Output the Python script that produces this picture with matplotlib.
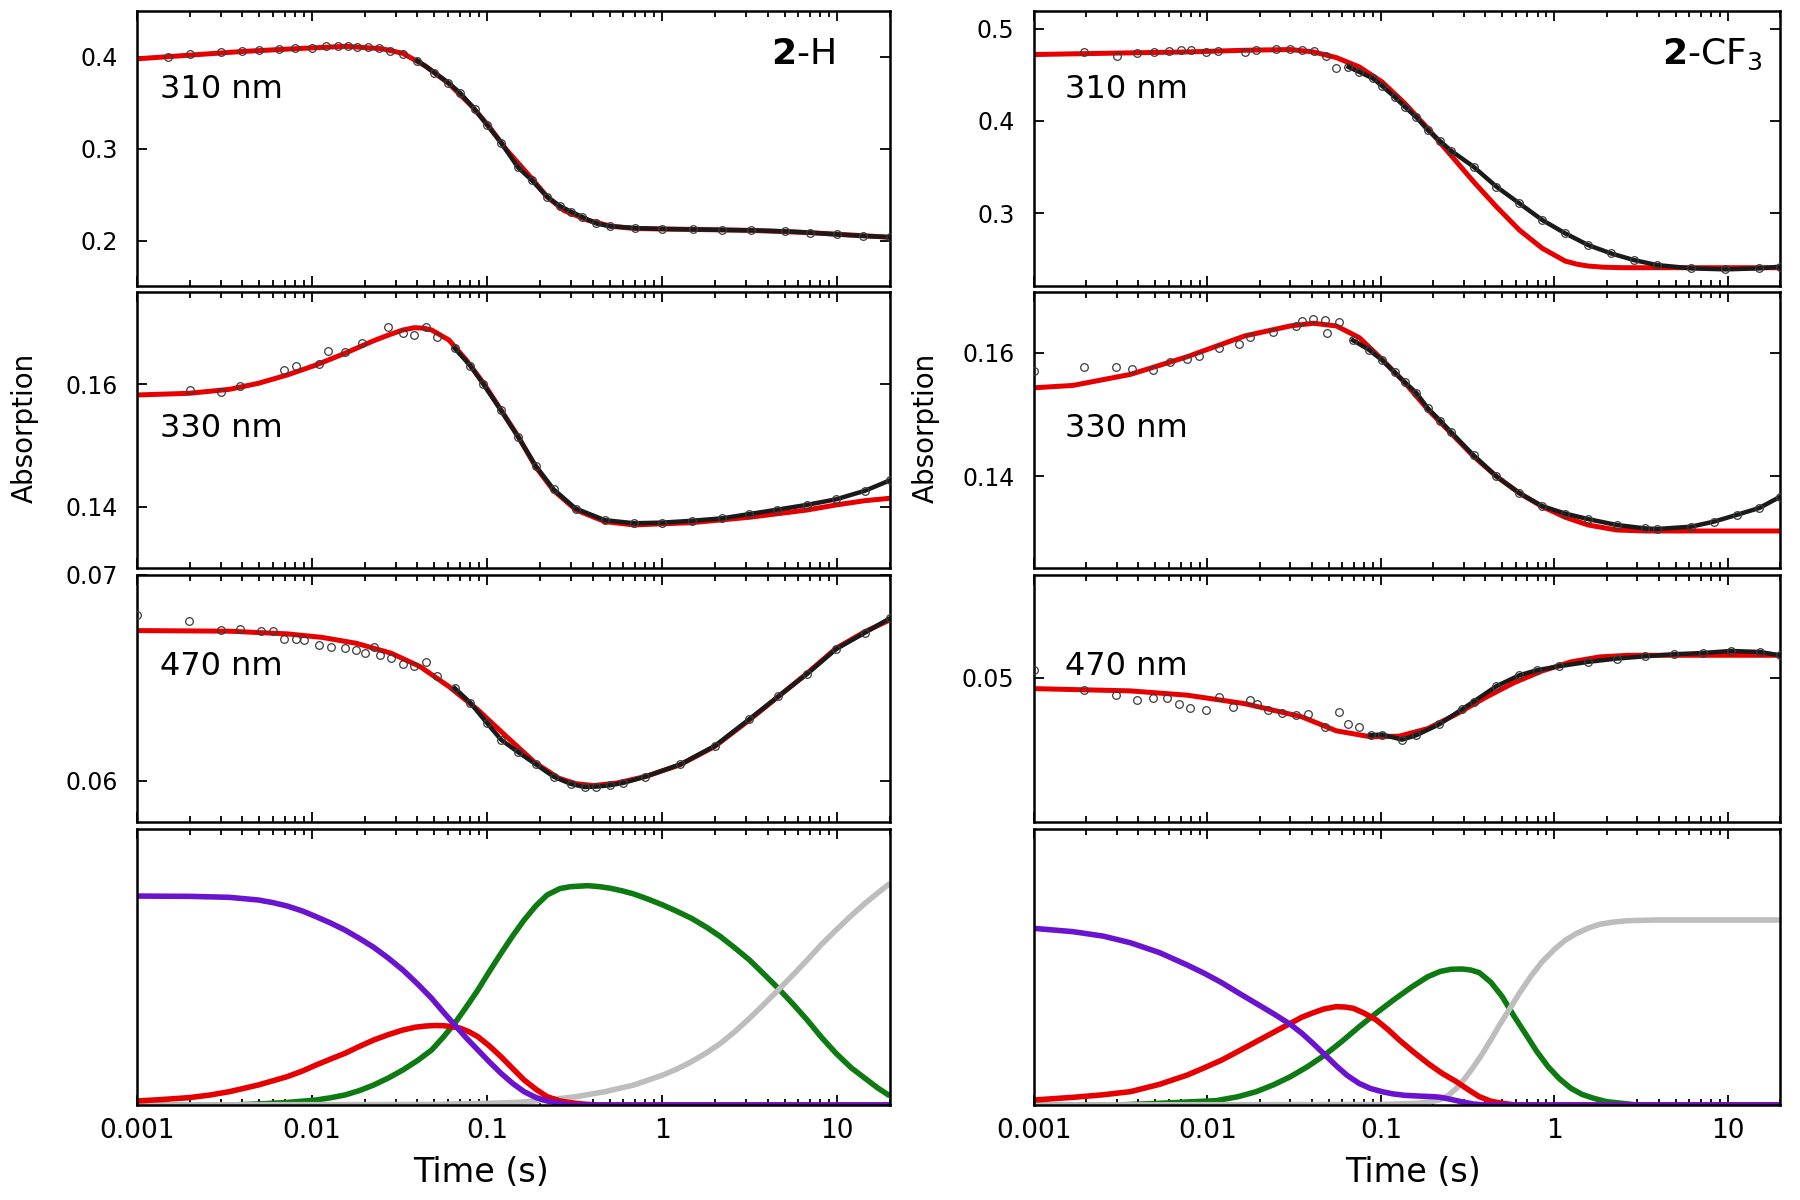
import matplotlib.pyplot as plt
import numpy as np
from matplotlib.ticker import FixedLocator, FixedFormatter, LogLocator, NullFormatter

# x axis (shared by all panels)
x_ticks = [0.001, 0.01, 0.1, 1, 10]
x_ticklabels = ['0.001', '0.01', '0.1', '1', '10']

# ---------------- 2-H ----------------
# 310 nm
h310_fit_t = [0.001, 0.002, 0.004, 0.008, 0.0155, 0.025, 0.033, 0.0446, 0.0605, 0.0822, 0.103,
              0.129, 0.176, 0.22, 0.275, 0.375, 0.51, 0.7, 1.5, 3.2, 7, 20]
h310_fit_y = [0.398, 0.402, 0.406, 0.409, 0.4116, 0.409, 0.404, 0.390, 0.371, 0.346, 0.324,
              0.299, 0.270, 0.248, 0.233, 0.2225, 0.216, 0.2135, 0.2125, 0.2115, 0.209, 0.204]
h310_dat_t = [0.0015, 0.002, 0.003, 0.004, 0.005, 0.0065, 0.008, 0.01, 0.012, 0.014, 0.016, 0.018,
              0.021, 0.024, 0.028, 0.033, 0.04, 0.05, 0.06, 0.07, 0.085, 0.1, 0.12, 0.15, 0.18, 0.22,
              0.26, 0.3, 0.35, 0.42, 0.5, 0.7, 1.0, 1.5, 2.2, 3.2, 5, 7, 10, 14, 20]
h310_dat_y = [0.4005, 0.4030, 0.4050, 0.4060, 0.4075, 0.4085, 0.4095, 0.4102, 0.4115, 0.4118, 0.4120,
              0.4112, 0.4105, 0.4095, 0.4070, 0.4035, 0.3960, 0.3830, 0.3720, 0.3610, 0.3430, 0.3260,
              0.3070, 0.2800, 0.2660, 0.2480, 0.2380, 0.2320, 0.2260, 0.2190, 0.2160, 0.2140, 0.2130,
              0.2125, 0.2120, 0.2115, 0.2105, 0.2090, 0.2070, 0.2055, 0.2040]
h310_yticks = [0.2, 0.3, 0.4]
h310_ylabels = ['0.2', '0.3', '0.4']

# 330 nm
h330_fit_t = [0.001, 0.00198, 0.00337, 0.00493, 0.00721, 0.01054, 0.0154, 0.0225, 0.028, 0.033, 0.0384,
              0.0435, 0.0482, 0.0605, 0.076, 0.0955, 0.12, 0.1507, 0.189, 0.238, 0.322, 0.471, 0.689,
              1.47, 3.15, 6.73, 9.84, 14.4, 20]
h330_fit_y = [0.15821, 0.15848, 0.15913, 0.16011, 0.16147, 0.16310, 0.16500, 0.16706, 0.16810, 0.16880,
              0.16918, 0.16910, 0.16880, 0.16717, 0.16391, 0.16011, 0.15576, 0.15141, 0.14652, 0.14272,
              0.13946, 0.13756, 0.13702, 0.13739, 0.13827, 0.13946, 0.14028, 0.14098, 0.14137]
h330_dat_t = [0.002, 0.003, 0.0039, 0.0069, 0.0081, 0.011, 0.0123, 0.0154, 0.0194, 0.027, 0.033,
              0.0384, 0.0446, 0.052, 0.0653, 0.08, 0.095, 0.12, 0.15, 0.19, 0.24, 0.32, 0.47, 0.69,
              1.0, 1.47, 2.2, 3.15, 4.5, 6.73, 9.84, 14.4, 20]
h330_dat_y = [0.15902, 0.15875, 0.15967, 0.16228, 0.16293, 0.16326, 0.16543, 0.16527, 0.16663, 0.16934,
              0.16826, 0.16799, 0.16934, 0.16771, 0.16581, 0.1630, 0.1600, 0.1557, 0.1514, 0.1466,
              0.1428, 0.1397, 0.1378, 0.1373, 0.1374, 0.1377, 0.1381, 0.1388, 0.1395, 0.1403, 0.1412,
              0.1426, 0.1443]
h330_yticks = [0.14, 0.16]
h330_ylabels = ['0.14', '0.16']

# 470 nm
h470_fit_t = [0.001, 0.00337, 0.00721, 0.01138, 0.01795, 0.0283, 0.0414, 0.0605, 0.0885, 0.129, 0.189,
              0.2566, 0.322, 0.405, 0.548, 0.802, 1.265, 1.995, 3.15, 4.6, 6.73, 9.84, 14.4, 20]
h470_fit_y = [0.06730, 0.06727, 0.06714, 0.06697, 0.06668, 0.06620, 0.06555, 0.06458, 0.06345, 0.06215,
              0.06086, 0.06013, 0.05986, 0.05977, 0.05989, 0.06021, 0.06078, 0.06167, 0.06296, 0.06409,
              0.06523, 0.06644, 0.06725, 0.06782]
h470_dat_t = [0.001, 0.00198, 0.003, 0.0039, 0.0051, 0.006, 0.0069, 0.0081, 0.009, 0.0109, 0.0128,
              0.0154, 0.0179, 0.0201, 0.0225, 0.0243, 0.0283, 0.033, 0.0384, 0.0446, 0.052, 0.0653,
              0.08, 0.1, 0.12, 0.15, 0.19, 0.24, 0.3, 0.36, 0.42, 0.5, 0.6, 0.8, 1.27, 2.0, 3.15, 4.6,
              6.73, 9.84, 14.4, 20]
h470_dat_y = [0.06806, 0.06777, 0.06733, 0.06736, 0.06730, 0.06730, 0.06688, 0.06688, 0.06682, 0.06660,
              0.06652, 0.06644, 0.06635, 0.06622, 0.06648, 0.06612, 0.06595, 0.06570, 0.06557, 0.06579,
              0.06507, 0.06450, 0.0638, 0.0628, 0.0620, 0.0614, 0.0608, 0.0602, 0.05985, 0.05970,
              0.05972, 0.05978, 0.05990, 0.0602, 0.0608, 0.0617, 0.0630, 0.0641, 0.0652, 0.0664,
              0.0672, 0.0679]
h470_yticks = [0.06, 0.07]
h470_ylabels = ['0.06', '0.07']

# species (2-H)
h_purple_t = [0.001, 0.002, 0.00337, 0.00493, 0.006, 0.00721, 0.0088, 0.01054, 0.0127, 0.0154, 0.0186,
              0.0225, 0.0273, 0.033, 0.04, 0.0482, 0.056, 0.0653, 0.076, 0.0885, 0.103, 0.12, 0.14,
              0.1626, 0.19, 0.22, 0.26, 0.2985, 20]
h_purple_y = [0.757, 0.756, 0.7524, 0.7428, 0.733, 0.721, 0.703, 0.6824, 0.660, 0.634, 0.604,
              0.5713, 0.532, 0.4891, 0.439, 0.3865, 0.338, 0.2899, 0.243, 0.1993, 0.156, 0.1147, 0.078,
              0.0483, 0.027, 0.0145, 0.006, 0.0, 0.0]
h_red_t = [0.001, 0.0014, 0.00198, 0.0026, 0.00337, 0.00493, 0.00721, 0.0088, 0.01054, 0.0127, 0.0154,
           0.0186, 0.0225, 0.0273, 0.033, 0.039, 0.0447, 0.0505, 0.0561, 0.063, 0.0705, 0.079, 0.0885,
           0.103, 0.12, 0.14, 0.1626, 0.19, 0.22, 0.26, 0.2985, 0.36, 0.4365, 20]
h_red_y = [0.0145, 0.020, 0.0266, 0.036, 0.0483, 0.0725, 0.1027, 0.123, 0.1449, 0.166, 0.1872,
           0.212, 0.2355, 0.255, 0.2717, 0.282, 0.2862, 0.2880, 0.2874, 0.284, 0.2778, 0.265, 0.2476,
           0.214, 0.175, 0.132, 0.0906, 0.057, 0.0302, 0.015, 0.0085, 0.003, 0.0, 0.0]
h_green_t = [0.001, 0.0034, 0.00493, 0.0072, 0.01054, 0.0127, 0.0154, 0.0186, 0.0225, 0.0273, 0.033,
             0.04, 0.0482, 0.056, 0.0653, 0.076, 0.0885, 0.103, 0.12, 0.14, 0.1626, 0.19, 0.22, 0.26,
             0.2985, 0.375, 0.44, 0.508, 0.59, 0.689, 0.83, 1.008, 1.22, 1.47, 1.78, 2.153, 2.6, 3.15,
             3.8, 4.6, 5.6, 6.73, 8.1, 9.84, 12, 14.4, 17, 20]
h_green_y = [0.0, 0.0, 0.0036, 0.009, 0.0181, 0.026, 0.0362, 0.052, 0.0725, 0.098, 0.1268,
             0.161, 0.1993, 0.245, 0.296, 0.355, 0.4167, 0.484, 0.5495, 0.613, 0.6703, 0.722, 0.7609,
             0.784, 0.791, 0.7947, 0.791, 0.785, 0.776, 0.7645, 0.746, 0.7246, 0.701, 0.6763, 0.645,
             0.6099, 0.569, 0.5254, 0.475, 0.4227, 0.365, 0.308, 0.246, 0.1872, 0.135, 0.0966, 0.062,
             0.0326]
h_gray_t = [0.001, 0.05, 0.103, 0.1507, 0.22, 0.322, 0.471, 0.689, 1.008, 1.22, 1.47, 1.78, 2.153,
            2.6, 3.15, 3.8, 4.6, 5.6, 6.73, 8.1, 9.84, 12, 14.4, 17, 20]
h_gray_y = [0.0, 0.002, 0.006, 0.0097, 0.0181, 0.0302, 0.0483, 0.0725, 0.1087, 0.131, 0.157, 0.188,
            0.2234, 0.266, 0.3140, 0.364, 0.4167, 0.472, 0.5254, 0.581, 0.634, 0.686, 0.7307, 0.768,
            0.8032]

# ---------------- 2-CF3 ----------------
# 310 nm
c310_fit_t = [0.001, 0.00359, 0.00766, 0.0164, 0.0301, 0.0408, 0.0553, 0.075, 0.1015, 0.1376, 0.1866,
              0.253, 0.3425, 0.464, 0.629, 0.852, 1.155, 1.35, 1.566, 1.9, 2.47, 20]
c310_fit_y = [0.4719, 0.4737, 0.4747, 0.4765, 0.4773, 0.4747, 0.4686, 0.4585, 0.4423, 0.4189, 0.3919,
              0.3630, 0.3342, 0.3071, 0.2819, 0.2622, 0.2484, 0.2450, 0.2430, 0.2418, 0.2412, 0.2412]
c310_dat_t = [0.00195, 0.003, 0.0039, 0.0049, 0.006, 0.007, 0.008, 0.0098, 0.0115, 0.0164, 0.019,
              0.025, 0.03, 0.035, 0.041, 0.048, 0.055, 0.065, 0.075, 0.09, 0.1015, 0.12, 0.1376, 0.16,
              0.1866, 0.22, 0.253, 0.3425, 0.464, 0.629, 0.852, 1.155, 1.566, 2.12, 2.87, 3.9, 6.15,
              9.7, 15.2, 20]
c310_dat_y = [0.4747, 0.4701, 0.4737, 0.4747, 0.4758, 0.4773, 0.4765, 0.4747, 0.4760, 0.4747, 0.4765,
              0.4783, 0.4783, 0.4770, 0.4755, 0.4700, 0.4568, 0.4585, 0.4531, 0.4460, 0.4380, 0.4260,
              0.4152, 0.4040, 0.3900, 0.3780, 0.3680, 0.3504, 0.3288, 0.3108, 0.2928, 0.2784, 0.2657,
              0.2567, 0.2495, 0.2441, 0.2405, 0.2394, 0.2405, 0.2423]
c310_yticks = [0.3, 0.4, 0.5]
c310_ylabels = ['0.3', '0.4', '0.5']

# 330 nm
c330_fit_t = [0.001, 0.001676, 0.00359, 0.00766, 0.0164, 0.0301, 0.0408, 0.0553, 0.075, 0.1015, 0.1376,
              0.1866, 0.253, 0.3425, 0.464, 0.629, 0.852, 1.155, 1.566, 2.29, 3.35, 20]
c330_fit_y = [0.15432, 0.15470, 0.15648, 0.15935, 0.16270, 0.16432, 0.16475, 0.16432, 0.16243, 0.15892,
              0.15513, 0.15080, 0.14702, 0.14323, 0.13999, 0.13729, 0.13512, 0.13340, 0.13215, 0.13134,
              0.13118, 0.13118]
c330_dat_t = [0.001, 0.00195, 0.00297, 0.00365, 0.00486, 0.00611, 0.00766, 0.0089, 0.01164, 0.01523,
              0.01768, 0.0239, 0.0325, 0.035, 0.0408, 0.0475, 0.0492, 0.0574, 0.069, 0.085, 0.1015,
              0.12, 0.1376, 0.16, 0.1866, 0.22, 0.253, 0.3425, 0.464, 0.629, 0.852, 1.155, 1.566, 2.29,
              3.35, 3.9, 6.15, 8.33, 11.3, 15.2, 20]
c330_dat_y = [0.15703, 0.15772, 0.1576, 0.1574, 0.15719, 0.15848, 0.15903, 0.15946, 0.1608, 0.16135,
              0.1626, 0.16335, 0.16432, 0.16513, 0.16551, 0.1652, 0.16324, 0.16497, 0.1620, 0.1605,
              0.1588, 0.1568, 0.1552, 0.1535, 0.1510, 0.1490, 0.1472, 0.1434, 0.1400, 0.1373, 0.1352,
              0.1340, 0.1331, 0.13215, 0.1316, 0.1315, 0.13188, 0.1327, 0.1338, 0.1349, 0.1367]
c330_yticks = [0.14, 0.16]
c330_ylabels = ['0.14', '0.16']

# 470 nm
c470_fit_t = [0.001, 0.00359, 0.00766, 0.0164, 0.035, 0.0553, 0.0872, 0.1276, 0.1866, 0.2726, 0.399,
              0.583, 0.852, 1.246, 1.823, 2.666, 20]
c470_fit_y = [0.04948, 0.04937, 0.04916, 0.04875, 0.04811, 0.04743, 0.04714, 0.04717, 0.04754, 0.04824,
              0.04904, 0.04976, 0.05034, 0.05078, 0.05102, 0.05110, 0.05110]
c470_dat_t = [0.001, 0.00195, 0.00297, 0.00393, 0.00486, 0.00588, 0.00684, 0.00796, 0.00985, 0.01164,
              0.01408, 0.01768, 0.01937, 0.0222, 0.02686, 0.03248, 0.03781, 0.04749, 0.0574, 0.0644,
              0.075, 0.0872, 0.1015, 0.1324, 0.1602, 0.2173, 0.294, 0.3425, 0.464, 0.629, 0.79, 1.07,
              1.566, 2.29, 3.35, 4.89, 7.16, 10.46, 15.3, 20]
c470_dat_y = [0.05040, 0.04940, 0.04919, 0.04892, 0.04903, 0.04903, 0.04872, 0.04856, 0.04846, 0.04908,
              0.04859, 0.04892, 0.04872, 0.04843, 0.04830, 0.04819, 0.04824, 0.04762, 0.04835, 0.04778,
              0.04762, 0.04722, 0.04725, 0.04700, 0.04722, 0.04775, 0.04848, 0.04885, 0.04960, 0.05013,
              0.05037, 0.05057, 0.05078, 0.05094, 0.05105, 0.05115, 0.05121, 0.05131, 0.05126, 0.05110]
c470_yticks = [0.05]
c470_ylabels = ['0.05']

# species (2-CF3)
c_purple_t = [0.001, 0.00168, 0.0025, 0.00359, 0.0053, 0.00766, 0.0096, 0.0121, 0.0152, 0.0191, 0.024,
              0.0301, 0.035, 0.0408, 0.047, 0.0553, 0.064, 0.075, 0.087, 0.1015, 0.118, 0.1376, 0.17,
              0.2012, 0.22, 0.253, 0.29, 0.3425, 0.4, 20]
c_purple_y = [0.640, 0.628, 0.612, 0.588, 0.552, 0.507, 0.477, 0.443, 0.405, 0.368, 0.331,
              0.292, 0.260, 0.222, 0.185, 0.142, 0.107, 0.078, 0.060, 0.0483, 0.040, 0.035, 0.032,
              0.0302, 0.028, 0.0205, 0.012, 0.0036, 0.0, 0.0]
c_red_t = [0.001, 0.00168, 0.0025, 0.00359, 0.0053, 0.00766, 0.0096, 0.0121, 0.0152, 0.0191, 0.024,
           0.0301, 0.035, 0.0408, 0.047, 0.0553, 0.062, 0.0695, 0.08, 0.0941, 0.11, 0.1276, 0.155,
           0.1866, 0.225, 0.2726, 0.32, 0.3695, 0.43, 0.5008, 0.6, 20]
c_red_y = [0.0181, 0.0278, 0.037, 0.0483, 0.075, 0.1087, 0.135, 0.163, 0.196, 0.2295, 0.263,
           0.296, 0.318, 0.3345, 0.348, 0.3563, 0.355, 0.3502, 0.333, 0.308, 0.273, 0.2355, 0.191,
           0.151, 0.115, 0.0845, 0.055, 0.0302, 0.014, 0.006, 0.0, 0.0]
c_green_t = [0.001, 0.003, 0.00524, 0.0112, 0.015, 0.0191, 0.024, 0.0301, 0.038, 0.0475, 0.06, 0.075,
             0.094, 0.1182, 0.15, 0.1866, 0.22, 0.253, 0.294, 0.33, 0.3695, 0.43, 0.5008, 0.58, 0.679,
             0.79, 0.92, 1.07, 1.246, 1.45, 1.689, 2.0, 2.47, 3.0, 20]
c_green_y = [0.0, 0.0, 0.006, 0.0157, 0.030, 0.0483, 0.073, 0.1027, 0.140, 0.1812, 0.232, 0.2838,
             0.333, 0.3804, 0.427, 0.4650, 0.484, 0.4916, 0.4928, 0.489, 0.4795, 0.445, 0.3925, 0.326,
             0.2597, 0.195, 0.1389, 0.095, 0.0604, 0.038, 0.0242, 0.012, 0.006, 0.0, 0.0]
c_gray_t = [0.001, 0.1, 0.160, 0.19, 0.2173, 0.245, 0.2726, 0.305, 0.3425, 0.385, 0.430, 0.48, 0.540,
            0.63, 0.73, 0.85, 0.992, 1.15, 1.345, 1.57, 1.823, 2.2, 2.666, 3.90, 20]
c_gray_y = [0.0, 0.002, 0.006, 0.011, 0.0181, 0.035, 0.0604, 0.096, 0.1389, 0.186, 0.2355, 0.287,
            0.3382, 0.406, 0.465, 0.519, 0.5616, 0.596, 0.6220, 0.641, 0.6546, 0.663, 0.6679, 0.6703,
            0.6703]

# colours
fit_color = '#e60000'
species_colors = ['#6a14d0', '#e60000', '#0e7a12', '#bdbdbd']

plt.rcParams['font.family'] = ['DejaVu Sans']
plt.rcParams['mathtext.fontset'] = 'dejavusans'

fig = plt.figure(figsize=(18, 12), dpi=100)

W, H = 1800.0, 1200.0
col_x = [(137, 890), (1034, 1780)]
row_y = [(11, 286), (292, 568), (575, 822), (829, 1105)]


def make_axes(col, row):
    x0, x1 = col_x[col]
    y0, y1 = row_y[row]
    ax = fig.add_axes([x0 / W, 1 - y1 / H, (x1 - x0) / W, (y1 - y0) / H])
    ax.set_xscale('log')
    ax.set_xlim(0.001, 20)
    ax.xaxis.set_major_locator(FixedLocator(x_ticks))
    ax.xaxis.set_minor_locator(LogLocator(base=10, subs=np.arange(2, 10), numticks=50))
    ax.xaxis.set_minor_formatter(NullFormatter())
    ax.tick_params(which='both', direction='in', top=True, right=True, width=1.3)
    ax.tick_params(which='major', length=7)
    ax.tick_params(which='minor', length=4)
    ax.tick_params(axis='y', labelsize=17, pad=14)
    ax.tick_params(axis='x', labelsize=19, pad=9)
    for s in ax.spines.values():
        s.set_linewidth(1.8)
    if row == 3:
        ax.xaxis.set_major_formatter(FixedFormatter(x_ticklabels))
    else:
        ax.tick_params(axis='x', labelbottom=False)
    return ax


def trace_panel(ax, fit_t, fit_y, dat_t, dat_y, yticks, ylabels, ylim, label, label_x, label_y,
                dense_from=0.04):
    ax.plot(fit_t, fit_y, color=fit_color, lw=3.6, zorder=2, solid_capstyle='butt')
    dat_t = np.array(dat_t)
    dat_y = np.array(dat_y)
    dense = dat_t >= dense_from
    ax.plot(dat_t[dense], dat_y[dense], color='#1a1a1a', lw=3.2, zorder=3)
    ax.plot(dat_t, dat_y, ls='none', marker='o', ms=5.5, mfc='none', mec='#3c3c3c',
            mew=0.9, zorder=4)
    ax.set_ylim(*ylim)
    ax.yaxis.set_major_locator(FixedLocator(yticks))
    ax.yaxis.set_major_formatter(FixedFormatter(ylabels))
    ax.text(label_x, label_y, label, transform=ax.transAxes, fontsize=23,
            ha='left', va='center')


def species_panel(ax, curves):
    order = [2, 3, 1, 0]  # green, gray, red, purple
    for i in order:
        t, y = curves[i]
        ax.plot(t, y, color=species_colors[i], lw=4.0, solid_capstyle='butt')
    ax.set_ylim(0, 1)
    ax.set_yticks([])


# ---- left column: 2-H ----
ax = make_axes(0, 0)
trace_panel(ax, h310_fit_t, h310_fit_y, h310_dat_t, h310_dat_y, h310_yticks, h310_ylabels,
            (0.151, 0.450), '310 nm', 0.031, 0.716)
ax.text(0.927, 0.844, r'$\mathbf{2}$-H', transform=ax.transAxes, fontsize=26,
        ha='right', va='center')

ax = make_axes(0, 1)
trace_panel(ax, h330_fit_t, h330_fit_y, h330_dat_t, h330_dat_y, h330_yticks, h330_ylabels,
            (0.130, 0.175), '330 nm', 0.031, 0.507, dense_from=0.06)

ax = make_axes(0, 2)
trace_panel(ax, h470_fit_t, h470_fit_y, h470_dat_t, h470_dat_y, h470_yticks, h470_ylabels,
            (0.0580, 0.0700), '470 nm', 0.031, 0.628, dense_from=0.06)

ax = make_axes(0, 3)
species_panel(ax, [(h_purple_t, h_purple_y), (h_red_t, h_red_y),
                   (h_green_t, h_green_y), (h_gray_t, h_gray_y)])

# ---- right column: 2-CF3 ----
ax = make_axes(1, 0)
trace_panel(ax, c310_fit_t, c310_fit_y, c310_dat_t, c310_dat_y, c310_yticks, c310_ylabels,
            (0.2214, 0.519), '310 nm', 0.041, 0.716, dense_from=0.06)
ax.text(0.976, 0.844, r'$\mathbf{2}$-CF$_3$', transform=ax.transAxes, fontsize=26,
        ha='right', va='center')

ax = make_axes(1, 1)
trace_panel(ax, c330_fit_t, c330_fit_y, c330_dat_t, c330_dat_y, c330_yticks, c330_ylabels,
            (0.1252, 0.1698), '330 nm', 0.041, 0.507, dense_from=0.06)

ax = make_axes(1, 2)
trace_panel(ax, c470_fit_t, c470_fit_y, c470_dat_t, c470_dat_y, c470_yticks, c470_ylabels,
            (0.0430, 0.0550), '470 nm', 0.041, 0.628, dense_from=0.085)

ax = make_axes(1, 3)
species_panel(ax, [(c_purple_t, c_purple_y), (c_red_t, c_red_y),
                   (c_green_t, c_green_y), (c_gray_t, c_gray_y)])

# shared labels
fig.text(25 / W, 1 - 428 / H, 'Absorption', rotation=90, fontsize=20, ha='center', va='center')
fig.text(926 / W, 1 - 428 / H, 'Absorption', rotation=90, fontsize=20, ha='center', va='center')
fig.text(481 / W, 1 - 1173 / H, 'Time (s)', fontsize=24, ha='center', va='center')
fig.text(1413 / W, 1 - 1173 / H, 'Time (s)', fontsize=24, ha='center', va='center')

fig.savefig('out.png', dpi=100)
